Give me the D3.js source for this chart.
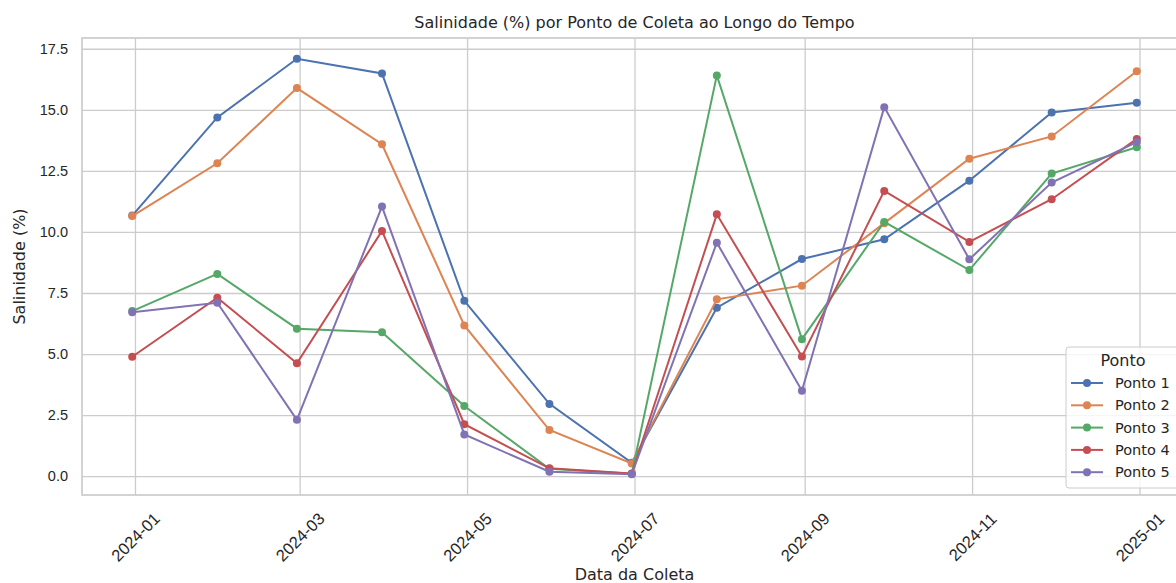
<!DOCTYPE html>
<html>
<head>
<meta charset="utf-8">
<script src="https://cdn.jsdelivr.net/npm/d3@7"></script>
<style>
  body { margin: 0; background: #fff; }
  svg { display: block; font-family: "DejaVu Sans", sans-serif; }
</style>
</head>
<body>
<svg></svg>
<script>
///////////////////////////////////////////
// Data
var dates = ["2023-12-31", "2024-01-31", "2024-02-29", "2024-03-31", "2024-04-30",
             "2024-05-31", "2024-06-30", "2024-07-31", "2024-08-31", "2024-09-30",
             "2024-10-31", "2024-11-30", "2024-12-31"];
var seriesNames = ["Ponto 1", "Ponto 2", "Ponto 3", "Ponto 4", "Ponto 5"];
var ponto1 = [10.67, 14.69, 17.09, 16.49, 7.18, 2.96, 0.55, 6.90, 8.89, 9.70, 12.10, 14.89, 15.29];
var ponto2 = [10.65, 12.81, 15.89, 13.59, 6.17, 1.89, 0.52, 7.24, 7.80, 10.36, 13.00, 13.91, 16.58];
var ponto3 = [6.76, 8.28, 6.04, 5.89, 2.87, 0.30, 0.10, 16.41, 5.61, 10.41, 8.44, 12.39, 13.47];
var ponto4 = [4.89, 7.31, 4.62, 10.04, 2.13, 0.32, 0.11, 10.72, 4.90, 11.68, 9.59, 11.34, 13.81];
var ponto5 = [6.71, 7.10, 2.31, 11.04, 1.71, 0.18, 0.08, 9.56, 3.50, 15.11, 8.88, 12.02, 13.68];
var yTicks = [0, 2.5, 5, 7.5, 10, 12.5, 15, 17.5];
var colors = ["#4C72B0", "#DD8452", "#55A868", "#C44E52", "#8172B3"];

///////////////////////////////////////////
// Layout
var svgWidth = 1176, svgHeight = 583;
var margin = {top: 38, right: -11, bottom: 88, left: 82},
    width = svgWidth - margin.left - margin.right,
    height = svgHeight - margin.top - margin.bottom;

var parse = d3.utcParse("%Y-%m-%d");
var xs = dates.map(parse);
var allSeries = [ponto1, ponto2, ponto3, ponto4, ponto5];

var svg = d3.select("svg").attr("width", svgWidth).attr("height", svgHeight);
var g = svg.append("g").attr("transform", "translate(" + [margin.left, margin.top] + ")");

// scales with matplotlib-like 5% margins
var xExt = d3.extent(xs), xPad = (xExt[1] - xExt[0]) * 0.05;
var x = d3.scaleUtc()
  .domain([new Date(+xExt[0] - xPad), new Date(+xExt[1] + xPad)])
  .range([0, width]);
var yExt = d3.extent(d3.merge(allSeries)), yPad = (yExt[1] - yExt[0]) * 0.05;
var y = d3.scaleLinear()
  .domain([yExt[0] - yPad, yExt[1] + yPad])
  .range([height, 0]);

var gridColor = "#cccccc", textColor = "#262626";

// grid + axes
var xAxis = g.append("g").attr("transform", "translate(0," + height + ")")
  .call(d3.axisBottom(x).ticks(d3.utcMonth.every(2)).tickFormat(d3.utcFormat("%Y-%m"))
          .tickSize(-height).tickPadding(0));
xAxis.select(".domain").remove();
xAxis.selectAll(".tick line").attr("stroke", gridColor).attr("stroke-width", 1.3);
xAxis.selectAll(".tick text")
  .attr("fill", textColor).style("font-size", "16.5px")
  .attr("text-anchor", "middle")
  .attr("transform", "translate(0,42) rotate(-45)")
  .attr("dy", "0.35em").attr("y", 0);

var yAxis = g.append("g")
  .call(d3.axisLeft(y).tickValues(yTicks).tickFormat(d3.format(".1f"))
          .tickSize(-width).tickPadding(14));
yAxis.select(".domain").remove();
yAxis.selectAll(".tick line").attr("stroke", gridColor).attr("stroke-width", 1.3);
yAxis.selectAll(".tick text").attr("fill", textColor).style("font-size", "14.5px");

// frame
g.append("rect").attr("width", width).attr("height", height)
  .attr("fill", "none").attr("stroke", gridColor).attr("stroke-width", 1.7);

// series
var line = d3.line().x(function(d, i){ return x(xs[i]); }).y(function(d){ return y(d); });
allSeries.forEach(function(s, k) {
  var sg = g.append("g").attr("class", "series");
  sg.append("path").datum(s).attr("d", line)
    .attr("fill", "none").attr("stroke", colors[k]).attr("stroke-width", 2);
  sg.selectAll("circle").data(s).enter().append("circle")
    .attr("cx", function(d, i){ return x(xs[i]); })
    .attr("cy", function(d){ return y(d); })
    .attr("r", 4).attr("fill", colors[k]);
});

// titles
svg.append("text").attr("x", margin.left + width / 2).attr("y", 28)
  .attr("text-anchor", "middle").attr("fill", textColor).style("font-size", "16px")
  .text("Salinidade (%) por Ponto de Coleta ao Longo do Tempo");
svg.append("text").attr("x", margin.left + width / 2).attr("y", 580)
  .attr("text-anchor", "middle").attr("fill", textColor).style("font-size", "16px")
  .text("Data da Coleta");
svg.append("text").attr("transform", "translate(25," + (margin.top + height / 2) + ") rotate(-90)")
  .attr("text-anchor", "middle").attr("fill", textColor).style("font-size", "16px")
  .text("Salinidade (%)");

// legend
var lx = 1066, ly = 347, lw = 116, lh = 141;
var legend = svg.append("g").attr("transform", "translate(" + [lx, ly] + ")");
legend.append("rect").attr("width", lw).attr("height", lh).attr("rx", 3)
  .attr("fill", "#fff").attr("fill-opacity", 0.8).attr("stroke", gridColor);
legend.append("text").attr("x", 57).attr("y", 19).attr("text-anchor", "middle")
  .attr("fill", textColor).style("font-size", "16px").text("Ponto");
seriesNames.forEach(function(name, k) {
  var row = legend.append("g").attr("transform", "translate(0," + (36 + k * 22.3) + ")");
  row.append("line").attr("x1", 5).attr("x2", 37).attr("stroke", colors[k]).attr("stroke-width", 2);
  row.append("circle").attr("cx", 21).attr("r", 4).attr("fill", colors[k]);
  row.append("text").attr("x", 49).attr("dy", "0.35em").attr("fill", textColor)
    .style("font-size", "14.5px").text(name);
});
</script>
</body>
</html>
